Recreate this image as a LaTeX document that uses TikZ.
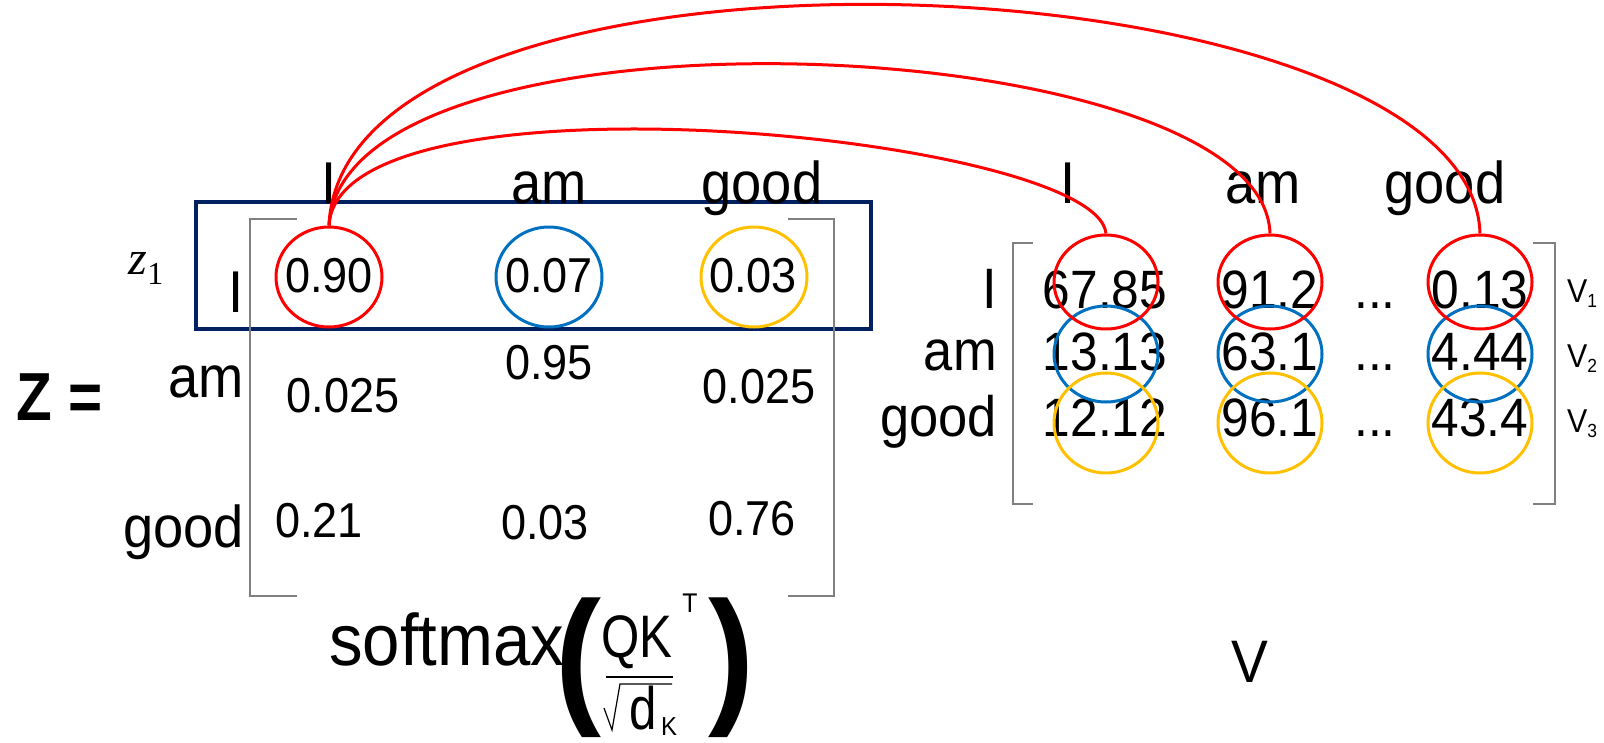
\documentclass[tikz,border=0pt]{standalone}
\usepackage{fontspec}
\setmainfont[FakeStretch=0.92]{Liberation Sans}
\newfontfamily\narrowfont[FakeStretch=0.82]{Liberation Sans}
\newfontfamily\zbfont[FakeStretch=0.86]{Liberation Sans}
\newfontfamily\zfont{Liberation Serif}
\usetikzlibrary{shapes.geometric}
\definecolor{cred}{RGB}{255,0,0}
\definecolor{cblue}{RGB}{0,112,192}
\definecolor{cyel}{RGB}{255,192,0}
\definecolor{cnavy}{RGB}{0,32,96}
\definecolor{cbrk}{RGB}{128,128,128}
\tikzset{
  hdr/.style={inner sep=0pt, anchor=base, font=\fontsize{59}{62}\selectfont},
  rlbl/.style={inner sep=0pt, anchor=base east, font=\fontsize{59}{62}\selectfont},
  lval/.style={inner sep=0pt, anchor=base, font=\fontsize{49}{54}\selectfont},
  vval/.style={inner sep=0pt, anchor=base, font=\fontsize{54}{58}\selectfont},
  vlbl/.style={inner sep=0pt, anchor=base east, font=\fontsize{57}{60}\selectfont},
  ring/.style={ellipse, draw, line width=3pt, inner sep=0pt, minimum width=#1},
  ring/.default=106pt,
  brk/.style={draw=cbrk, line width=1.5pt},
  arc/.style={draw=cred, line width=3pt},
  txt/.style={inner sep=0pt},
}
\begin{document}
\begin{tikzpicture}[x=1pt,y=-1pt]
\useasboundingbox (0,0) rectangle (1604,742);
% navy box
\node[draw=cnavy, line width=4pt, inner sep=0pt, minimum width=675pt, minimum height=127pt] (zrow) at (533.5,265.5) {};
% left matrix brackets
\draw[brk] (297,219) -- (250,219) -- (250,596) -- (297,596);
\draw[brk] (788,219) -- (834,219) -- (834,596) -- (788,596);
% headers
\node[hdr] (h1) at (329,203) {I};
\node[hdr] (h2) at (549,203) {am};
\node[hdr] (h3) at (762,203) {good};
% row labels
\node[rlbl] (r1) at (244,312) {I};
\node[rlbl] (r2) at (244,397) {am};
\node[rlbl] (r3) at (244,547) {good};
% values
\node[lval] (a11) at (329,292) {0.90};
\node[lval] (a12) at (549,292) {0.07};
\node[lval] (a13) at (753,292) {0.03};
\node[lval] (a21) at (343,412) {0.025};
\node[lval] (a22) at (549,379) {0.95};
\node[lval] (a23) at (759,403) {0.025};
\node[lval] (a31) at (319,537) {0.21};
\node[lval] (a32) at (545,539) {0.03};
\node[lval] (a33) at (752,535) {0.76};
% rings left
\node[ring, draw=cred, minimum height=100pt] (e1) at (329,277) {};
\node[ring, draw=cblue, minimum height=100pt] (e2) at (549,277) {};
\node[ring, draw=cyel, minimum height=100pt] (e3) at (754,277) {};
% z1
\node[txt] (z1) at (146,268) {\zfont\fontsize{48}{48}\selectfont\itshape z\raisebox{-10pt}{\upshape\fontsize{32}{32}\selectfont 1}};
% Z =
\node[txt] (zeq) at (60,397) {\zbfont\fontsize{68}{72}\selectfont\bfseries Z =};
% V matrix
\draw[brk] (1033,243) -- (1013,243) -- (1013,504) -- (1033,504);
\draw[brk] (1533,243) -- (1555,243) -- (1555,504) -- (1533,504);
\node[hdr] (vh1) at (1068,203) {I};
\node[hdr] (vh2) at (1263,203) {am};
\node[hdr] (vh3) at (1445,203) {good};
\node[vlbl] (vr1) at (997,308) {I};
\node[vlbl] (vr2) at (997,370) {am};
\node[vlbl] (vr3) at (997,436) {good};
\node[vval] (v11) at (1105,308) {67.85};
\node[vval] (v12) at (1270,308) {91.2};
\node[vval] (v13) at (1375,308) {...};
\node[vval] (v14) at (1480,308) {0.13};
\node[vval] (v21) at (1105,370) {13.13};
\node[vval] (v22) at (1270,370) {63.1};
\node[vval] (v23) at (1375,370) {...};
\node[vval] (v24) at (1480,370) {4.44};
\node[vval] (v31) at (1105,436) {12.12};
\node[vval] (v32) at (1270,436) {96.1};
\node[vval] (v33) at (1375,436) {...};
\node[vval] (v34) at (1480,436) {43.4};
\foreach \n/\x in {1/1106,2/1270,3/1480}{
  \node[ring=104pt, draw=cblue, minimum height=96pt] (b\n) at (\x,354) {};
  \node[ring=104pt, draw=cyel, minimum height=100pt] (y\n) at (\x,423) {};
  \node[ring=104pt, draw=cred, minimum height=94pt] (r\n) at (\x,282) {};
}
% V labels
\foreach \n/\y in {1/302,2/367,3/432}{
  \node[txt, anchor=base west] (vl\n) at (1567,\y) {\fontsize{33}{33}\selectfont V\raisebox{-5pt}{\fontsize{19}{19}\selectfont \n}};
}
% arcs
\draw[arc] (e1.north) .. controls (338,62) and (1097,135) .. (r1.north);
\draw[arc] (e1.north) .. controls (343,-10) and (1264,28) .. (r2.north);
\draw[arc] (e1.north) .. controls (343,-95) and (1472,-45) .. (r3.north);
% formula
\node[txt, anchor=base west] (sm) at (329,665) {\fontsize{73}{76}\selectfont softmax};
\node[txt] (lp) at (578,668) {\fontsize{150}{150}\selectfont\bfseries (};
\node[txt] (rp) at (731,668) {\fontsize{150}{150}\selectfont\bfseries )};
\node[txt, anchor=base] (qk) at (637,657) {\narrowfont\fontsize{60}{62}\selectfont QK};
\node[txt] (tt) at (690,603) {\fontsize{27}{27}\selectfont T};
\draw[line width=2pt] (606,677) -- (673,677);
\draw[line width=1.2pt] (604,708) -- (612,730) -- (620,684) -- (672,684);
\node[txt, anchor=base] (dd) at (643,729) {\narrowfont\fontsize{60}{62}\selectfont d};
\node[txt, anchor=base west] (kk) at (661,735) {\fontsize{26}{26}\selectfont K};
% bottom V
\node[txt, anchor=base] (vb) at (1250,682) {\fontsize{60}{62}\selectfont V};
\end{tikzpicture}
\end{document}
